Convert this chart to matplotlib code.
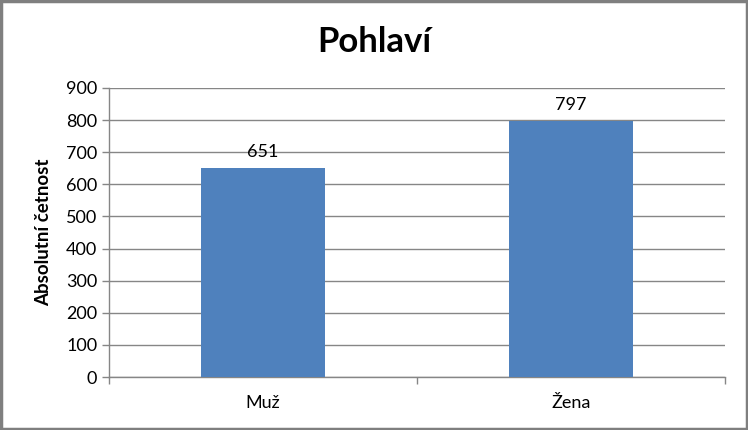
import matplotlib.pyplot as plt
from matplotlib.patches import Rectangle

categories = ["Muž", "Žena"]
counts = [651, 797]
y_ticks = [0, 100, 200, 300, 400, 500, 600, 700, 800, 900]

plt.rcParams['font.family'] = ['Lato', 'DejaVu Sans']

fig = plt.figure(figsize=(7.48, 4.30), dpi=100)
ax = fig.add_axes([109 / 748, 1 - 377 / 430, 616 / 748, 289 / 430])

x = list(range(len(categories)))
bars = ax.bar(x, counts, width=0.4, color="#4F81BD", zorder=3)
for b, v in zip(bars, counts):
    ax.text(b.get_x() + b.get_width() / 2, v + 26, str(v),
            ha="center", va="bottom", fontsize=13, color="black")

ax.set_xlim(-0.5, 1.5)
ax.set_ylim(0, 900)
ax.set_yticks(y_ticks)
ax.tick_params(axis="y", labelsize=13, length=5, color="#868686", width=1)
ax.set_xticks(x)
ax.set_xticklabels(categories, fontsize=13)
ax.tick_params(axis="x", length=0, pad=13)
# category boundary ticks
ax.set_xticks([-0.5, 0.5, 1.5], minor=True)
ax.tick_params(axis="x", which="minor", length=5, color="#868686", width=1)

ax.grid(axis="y", color="#868686", linewidth=1, zorder=0)
for side in ["top", "right"]:
    ax.spines[side].set_visible(False)
for side in ["left", "bottom"]:
    ax.spines[side].set_color("#868686")
    ax.spines[side].set_linewidth(1)

ax.set_ylabel("Absolutní četnost", fontsize=13.5, fontweight="bold", labelpad=10)
fig.text(0.5, 1 - 42 / 430, "Pohlaví", ha="center", va="center",
         fontsize=25, fontweight="bold")

fig.patches.append(Rectangle((0.002, 0.003), 0.996, 0.994, transform=fig.transFigure,
                             fill=False, edgecolor="#7F7F7F", linewidth=2.5))

fig.savefig("out.png", dpi=100)
